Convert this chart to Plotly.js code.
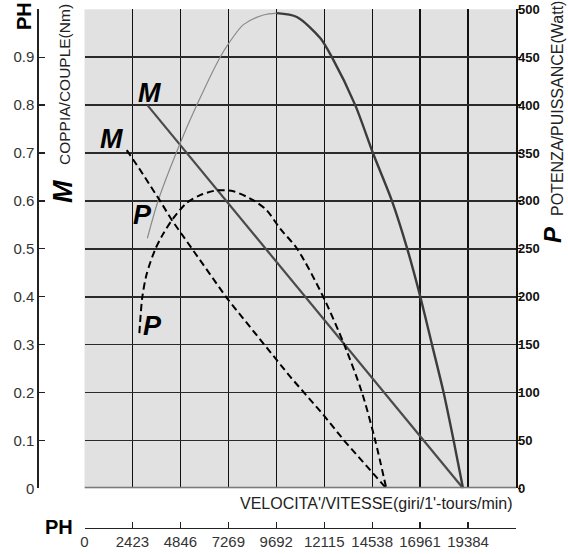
<!DOCTYPE html>
<html><head><meta charset="utf-8">
<script src="https://cdn.plot.ly/plotly-3.0.1.min.js"></script>
<style>html,body{margin:0;padding:0;background:#fff}#chart{width:568px;height:554px}</style>
</head><body><div id="chart"></div>
<script>
// ---- data ----
const rpmTicks = [0, 2423, 4846, 7269, 9692, 12115, 14538, 16961, 19384];
const rpmMax = 21807;
const torqueTicks = [0, 0.1, 0.2, 0.3, 0.4, 0.5, 0.6, 0.7, 0.8, 0.9, 1.0];
const torqueLabels = ['0', '0.1', '0.2', '0.3', '0.4', '0.5', '0.6', '0.7', '0.8', '0.9', ''];
const powerTicks = [0, 50, 100, 150, 200, 250, 300, 350, 400, 450, 500];

// solid torque line (M)
const mSolidRpm = [3177, 19130];
const mSolidNm = [0.80, 0];
// dashed torque line (M)
const mDashRpm = [2134, 2807, 3819, 4411, 7193, 9044, 10394, 11998, 13176, 14441, 15250];
const mDashNm = [0.706, 0.665, 0.600, 0.560, 0.397, 0.303, 0.233, 0.157, 0.097, 0.038, 0];
// solid power curve (P)
const pSolidRpm = [3177, 3733, 4830, 5675, 6854, 7273, 8032, 9044, 9721, 10733, 11912, 12503, 13682, 14577, 15538, 16297, 16970, 17561, 18148, 18654, 19129];
const pSolidW = [261, 301, 360, 400, 450, 464, 484, 494, 496, 492, 470, 450, 400, 350, 300, 251, 200, 150, 100, 50, 0];
const pSolidPeakIdx = 8;
// dashed power curve (P)
const pDashRpm = [2772, 2924, 3146, 3566, 3986, 4492, 5169, 5842, 6686, 7526, 8589, 9216, 9888, 10748, 12063, 13125, 14021, 14693, 15250];
const pDashW = [162, 200, 224, 249, 266, 282, 298, 306, 311, 310, 300, 290, 271, 250, 200, 150, 100, 50, 0];

// ---- layout helpers ----
const W = 568, H = 554;
const px = v => v / W;
const py = v => 1 - v / H;
const X0 = 84.5, X1 = 516, Y0 = 488.3, Y1 = 9.3;
const FONT = 'Liberation Sans, Arial, sans-serif';
const NARROW = 'Liberation Sans Narrow, Liberation Sans, Arial, sans-serif';
const DASH = '7px,4px';

const traces = [
  {x: mDashRpm, y: mDashNm, xaxis: 'x2', yaxis: 'y', mode: 'lines',
   line: {color: '#000', width: 2, dash: DASH}, hoverinfo: 'skip'},
  {x: mSolidRpm, y: mSolidNm, xaxis: 'x', yaxis: 'y', mode: 'lines',
   line: {color: '#4a4a4a', width: 2.2}, hoverinfo: 'skip'},
  {x: pSolidRpm.slice(0, pSolidPeakIdx + 1), y: pSolidW.slice(0, pSolidPeakIdx + 1), xaxis: 'x', yaxis: 'y2', mode: 'lines',
   line: {color: '#8a8a8a', width: 1.2, shape: 'spline', smoothing: 0.8}, hoverinfo: 'skip'},
  {x: pSolidRpm.slice(pSolidPeakIdx), y: pSolidW.slice(pSolidPeakIdx), xaxis: 'x', yaxis: 'y2', mode: 'lines',
   line: {color: '#3c3c3c', width: 2.4, shape: 'spline', smoothing: 0.8}, hoverinfo: 'skip'},
  {x: pDashRpm, y: pDashW, xaxis: 'x', yaxis: 'y2', mode: 'lines',
   line: {color: '#000', width: 2, dash: DASH, shape: 'spline', smoothing: 0.8}, hoverinfo: 'skip'}
];

const note = (text, x, y, angle, font, xanchor) => ({text: text, x: px(x), y: py(y), xref: 'paper', yref: 'paper',
  showarrow: false, textangle: angle || 0, xanchor: xanchor || 'center', yanchor: 'middle', font: font});
const BI = {family: FONT, size: 27, color: '#000', weight: 'bold', style: 'italic'};
const BIR = {family: FONT, size: 24, color: '#000', weight: 'bold', style: 'italic'};
const PHF = {family: NARROW, size: 20, color: '#000', weight: 'bold'};

const layout = {
  width: W, height: H,
  margin: {l: 0, r: 0, t: 0, b: 0, pad: 0},
  paper_bgcolor: '#fff', plot_bgcolor: '#e1e1e1',
  showlegend: false,
  xaxis: {domain: [px(X0), px(X1)], range: [0, rpmMax], anchor: 'y', automargin: false,
    tickvals: rpmTicks.slice(1), showticklabels: false, ticks: '',
    showgrid: true, gridcolor: '#111', gridwidth: 1.3, showline: false, zeroline: false, fixedrange: true},
  xaxis2: {overlaying: 'x', anchor: 'free', position: py(528), side: 'bottom', range: [0, rpmMax], automargin: false,
    tickvals: rpmTicks.concat([rpmMax]), ticktext: rpmTicks.map(String).concat(['']),
    ticks: 'inside', ticklen: 6, tickwidth: 1.3, tickcolor: '#222',
    showline: true, linecolor: '#222', linewidth: 1.3, showgrid: false, zeroline: false,
    tickfont: {family: FONT, size: 15, color: '#333'}, fixedrange: true},
  yaxis: {domain: [py(Y0), py(Y1)], range: [0, 1], anchor: 'free', position: px(37.3), automargin: false,
    tickvals: torqueTicks, ticktext: torqueLabels,
    ticks: 'inside', ticklen: 6, tickwidth: 1.3, tickcolor: '#222',
    showline: true, linecolor: '#222', linewidth: 1.3,
    showgrid: true, gridcolor: '#2a2a2a', gridwidth: 1.6, zeroline: false,
    tickfont: {family: FONT, size: 15, color: '#333'}, fixedrange: true},
  yaxis2: {overlaying: 'y', side: 'right', anchor: 'x', range: [0, 500], automargin: false,
    tickvals: powerTicks, ticks: 'outside', ticklen: 3, tickwidth: 1.3, tickcolor: '#111', ticklabelstandoff: -5,
    showline: true, linecolor: '#111', linewidth: 1.5, showgrid: false, zeroline: false,
    tickfont: {family: NARROW, size: 13, color: '#111', weight: 'bold'}, fixedrange: true},
  shapes: [
    {type: 'line', xref: 'x', yref: 'y', x0: 0, x1: rpmMax, y0: 0, y1: 0, line: {color: '#7a7a7a', width: 3}}
  ],
  annotations: [
    note('PH', 24, 16, -90, PHF),
    note('PH', 59, 527, 0, PHF),
    note('COPPIA/COUPLE(Nm)', 65, 85, -90, {family: FONT, size: 15.5, color: '#222'}),
    note('POTENZA/PUISSANCE(Watt)', 557, 109, -90, {family: FONT, size: 16, color: '#222'}),
    note("VELOCITA'/VITESSE(giri/1'-tours/min)", 515, 503, 0, {family: FONT, size: 16, color: '#222'}, 'right'),
    note('M', 63, 192, -90, BI),
    note('P', 552, 235, -90, BIR),
    note('M', 149, 93, 0, BI),
    note('M', 112, 139, 0, BI),
    note('P', 142, 215, 0, BI),
    note('P', 153, 326, 0, BI)
  ]
};

Plotly.newPlot('chart', traces, layout, {staticPlot: true, displayModeBar: false});
</script>
</body></html>
